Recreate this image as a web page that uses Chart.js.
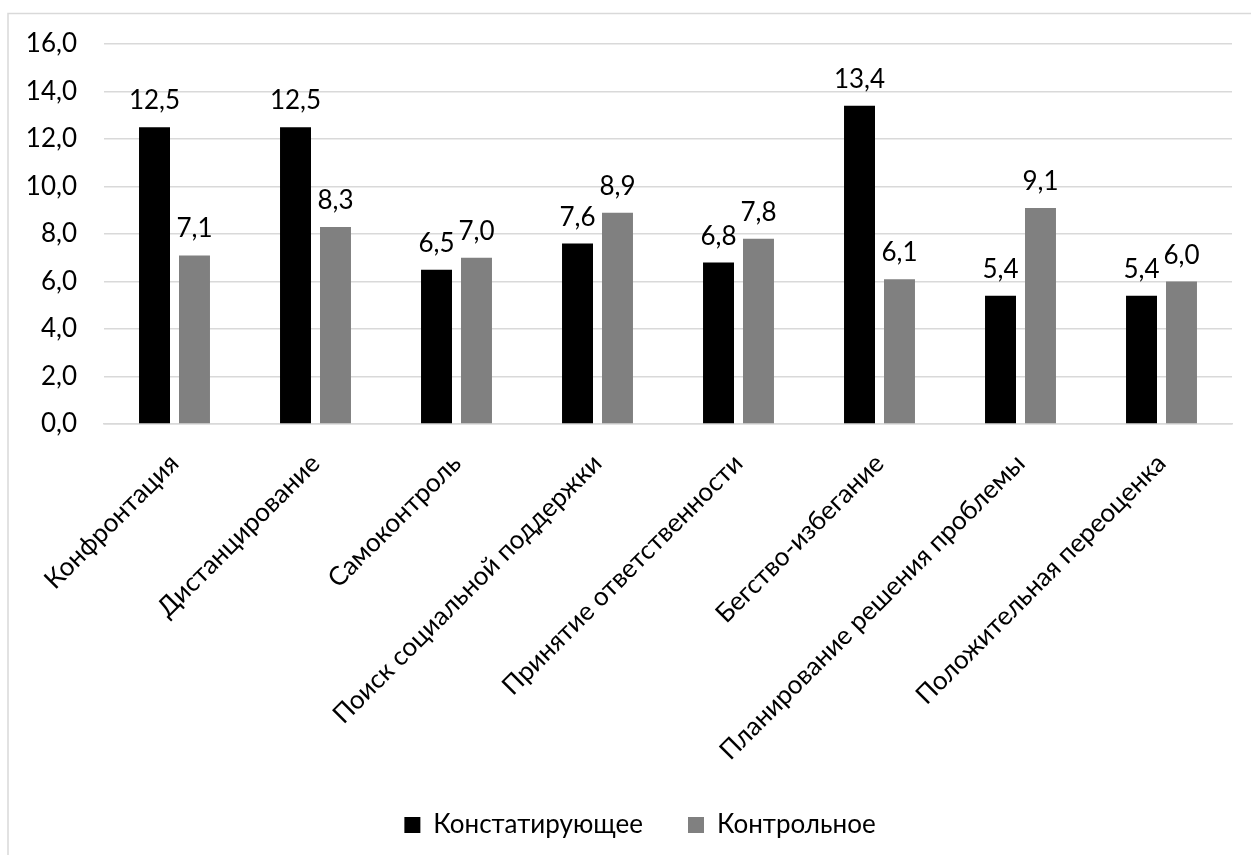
<!DOCTYPE html>
<html>
<head>
<meta charset="utf-8">
<script src="https://cdn.jsdelivr.net/npm/chart.js@4/dist/chart.umd.min.js"></script>
<style>
  html, body { margin: 0; padding: 0; background: #fff; }
  #wrap { position: absolute; left: 0; top: 0; width: 1251px; height: 855px; }
</style>
</head>
<body>
<div id="wrap"><canvas id="chart" width="1251" height="855"></canvas></div>
<script>
// Стратегии совладающего поведения
const categories = [
  'Конфронтация',
  'Дистанцирование',
  'Самоконтроль',
  'Поиск социальной поддержки',
  'Принятие ответственности',
  'Бегство-избегание',
  'Планирование решения проблемы',
  'Положительная переоценка'
];
const seriesNames = ['Констатирующее', 'Контрольное'];
const ascertaining = [12.5, 12.5, 6.5, 7.6, 6.8, 13.4, 5.4, 5.4];
const control = [7.1, 8.3, 7.0, 8.9, 7.8, 6.1, 9.1, 6.0];
const yTicks = [0, 2, 4, 6, 8, 10, 12, 14, 16];

const FONT = 'Lato, sans-serif';
const SIZE = 26;
const fmt = v => v.toFixed(1).replace('.', ',');

// Подписи значений над столбцами, рамка области диаграммы, центровка легенды
const valueLabels = {
  id: 'valueLabels',
  afterLayout(chart) {
    // легенда центрируется по всей ширине рамки, а не по области построения
    if (chart.legend) chart.legend.left += 48;
  },
  beforeDraw(chart) {
    const ctx = chart.ctx;
    ctx.save();
    ctx.strokeStyle = '#d9d9d9';
    ctx.lineWidth = 1.5;
    ctx.strokeRect(8, 13.5, 1300, 900);
    ctx.restore();
  },
  afterDatasetsDraw(chart) {
    const ctx = chart.ctx;
    ctx.save();
    ctx.font = SIZE + 'px ' + FONT;
    ctx.fillStyle = '#000';
    ctx.textAlign = 'center';
    ctx.textBaseline = 'alphabetic';
    chart.data.datasets.forEach((ds, i) => {
      chart.getDatasetMeta(i).data.forEach((bar, j) => {
        ctx.fillText(fmt(ds.data[j]), bar.x, bar.y - 18);
      });
    });
    ctx.restore();
  }
};

new Chart(document.getElementById('chart'), {
  type: 'bar',
  data: {
    labels: categories,
    datasets: [
      { label: seriesNames[0], data: ascertaining, backgroundColor: '#000000',
        categoryPercentage: 0.567, barPercentage: 0.775 },
      { label: seriesNames[1], data: control, backgroundColor: '#808080',
        categoryPercentage: 0.567, barPercentage: 0.775 }
    ]
  },
  options: {
    responsive: false,
    animation: false,
    layout: { padding: { left: 0, right: 19, top: 44, bottom: 7 } },
    plugins: {
      legend: {
        position: 'bottom',
        labels: {
          font: { family: FONT, size: SIZE },
          color: '#000',
          boxWidth: 16,
          boxHeight: 16,
          padding: 45
        }
      },
      tooltip: { enabled: false }
    },
    scales: {
      x: {
        grid: { display: false },
        border: { color: '#d9d9d9', width: 1.5 },
        afterFit(axis) { axis.height = 343; },
        ticks: {
          font: { family: FONT, size: SIZE },
          color: '#000',
          minRotation: 45,
          maxRotation: 45,
          autoSkip: false,
          padding: 16
        }
      },
      y: {
        min: 0,
        max: 16,
        afterBuildTicks(axis) { axis.ticks = yTicks.map(v => ({ value: v })); },
        afterFit(axis) { axis.width = 104; },
        grid: { color: '#d9d9d9', lineWidth: 1.5, drawTicks: false },
        border: { display: false },
        ticks: {
          font: { family: FONT, size: SIZE },
          color: '#000',
          padding: 27,
          callback: v => fmt(v)
        }
      }
    }
  },
  plugins: [valueLabels]
});
</script>
</body>
</html>
